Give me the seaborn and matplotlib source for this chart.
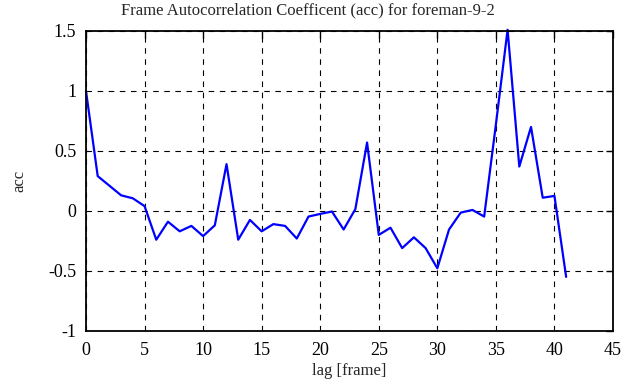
"""Frame autocorrelation plot for foreman-9-2."""
import pandas as pd
import matplotlib
matplotlib.use("Agg")
import matplotlib.pyplot as plt
import seaborn as sns

lags = list(range(42))
acc = [1.0, 0.29, 0.21, 0.13, 0.105, 0.04, -0.24, -0.09, -0.17, -0.125,
       -0.21, -0.12, 0.39, -0.24, -0.075, -0.17, -0.11, -0.125, -0.23, -0.047,
       -0.025, -0.005, -0.155, 0.015, 0.57, -0.2, -0.14, -0.31, -0.22, -0.31,
       -0.478, -0.155, -0.014, 0.008, -0.047, 0.72, 1.51, 0.37, 0.70, 0.11,
       0.125, -0.55]
x_ticks = [0, 5, 10, 15, 20, 25, 30, 35, 40, 45]
y_ticks = [-1, -0.5, 0, 0.5, 1, 1.5]
y_tick_labels = ["-1", "-0.5", "0", "0.5", "1", "1.5"]

df = pd.DataFrame({"lag": lags, "acc": acc})

sns.set_style("white")
plt.rcParams["font.family"] = ["Liberation Serif", "DejaVu Serif"]

fig = plt.figure(figsize=(6.3, 3.87), dpi=100)
ax = fig.add_axes([0.1365, 0.145, 0.8365, 0.775])
sns.lineplot(data=df, x="lag", y="acc", color="#0000ff", linewidth=1.6, ax=ax,
             clip_on=False)

ax.set_xlim(0, 45)
ax.set_ylim(-1, 1.5)
ax.set_xticks(x_ticks)
ax.set_yticks(y_ticks)
ax.set_yticklabels(y_tick_labels)
ax.grid(True, color="black", linestyle=(0, (5, 5)), linewidth=0.8)
ax.tick_params(direction="in", length=5, width=1, top=True, right=True,
               labelsize=13, colors="black")
ax.tick_params(axis="y", pad=7)
ax.tick_params(axis="x", pad=8)
for s in ax.spines.values():
    s.set_color("black")
    s.set_linewidth(1.3)
fig.text(0.489, 0.995, "Frame Autocorrelation Coefficent (acc) for foreman-9-2",
         fontsize=12, ha="center", va="top")
ax.set_xlabel("lag [frame]", fontsize=12, labelpad=3)
ax.set_ylabel("acc", fontsize=12, labelpad=15)

plt.savefig("out.png", dpi=100)
